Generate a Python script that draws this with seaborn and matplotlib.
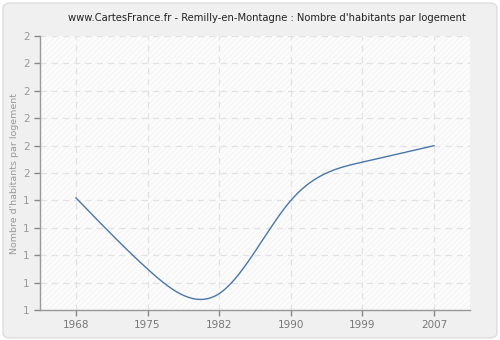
import numpy as np
import pandas as pd
import matplotlib
matplotlib.use("Agg")
import matplotlib.pyplot as plt
from matplotlib.patches import FancyBboxPatch, Rectangle
import seaborn as sns

years = ["1968", "1975", "1982", "1990", "1999", "2007"]
values = [1.41, 1.15, 1.06, 1.40, 1.54, 1.60]
yticks = [1.0, 1.1, 1.2, 1.3, 1.4, 1.5, 1.6, 1.7, 1.8, 1.9, 2.0]
title = "www.CartesFrance.fr - Remilly-en-Montagne : Nombre d'habitants par logement"
ylabel = "Nombre d'habitants par logement"


def natural_spline(x, y, xs):
    x = np.asarray(x, float); y = np.asarray(y, float)
    n = len(x)
    h = np.diff(x)
    A = np.zeros((n, n)); b = np.zeros(n)
    A[0, 0] = 1; A[-1, -1] = 1
    for i in range(1, n - 1):
        A[i, i - 1] = h[i - 1]
        A[i, i] = 2 * (h[i - 1] + h[i])
        A[i, i + 1] = h[i]
        b[i] = 3 * ((y[i + 1] - y[i]) / h[i] - (y[i] - y[i - 1]) / h[i - 1])
    c = np.linalg.solve(A, b)
    out = np.empty_like(xs)
    for k, xv in enumerate(xs):
        i = min(np.searchsorted(x, xv, side="right") - 1, n - 2)
        i = max(i, 0)
        dx = xv - x[i]
        bb = (y[i + 1] - y[i]) / h[i] - h[i] * (2 * c[i] + c[i + 1]) / 3
        d = (c[i + 1] - c[i]) / (3 * h[i])
        out[k] = y[i] + bb * dx + c[i] * dx ** 2 + d * dx ** 3
    return out


sns.set_theme(style="white")
plt.rcParams["font.family"] = ["DejaVu Sans"]

fig = plt.figure(figsize=(5.0, 3.4), dpi=100)
fig.patch.set_facecolor("white")
bg = FancyBboxPatch((0.006, 0.006), 0.988, 0.985, boxstyle="round,pad=0,rounding_size=0.015",
                    transform=fig.transFigure, facecolor="#f0f0f0", edgecolor="#dddddd",
                    linewidth=1, zorder=-10)
fig.patches.append(bg)

ax = fig.add_axes([0.08, 0.088, 0.86, 0.806])
ax.set_facecolor("#f7f7f7")
ax.add_patch(Rectangle((0, 0), 1, 1, transform=ax.transAxes, facecolor="none",
                       edgecolor="#ffffff", hatch="//////", linewidth=0, zorder=0))

idx = np.arange(len(years))
xs = np.linspace(0, len(years) - 1, 300)
ys = natural_spline(idx, values, xs)
df = pd.DataFrame({"x": xs, "y": ys})
sns.lineplot(data=df, x="x", y="y", ax=ax, color="#4a76a8", linewidth=1.0, zorder=3)

ax.set_xlim(-0.5, len(years) - 0.5)
ax.set_ylim(1.0, 2.0)
ax.set_xticks(idx)
ax.set_xticklabels(years)
ax.set_yticks(yticks)
ax.set_yticklabels([f"{v:.0f}" for v in yticks])
ax.grid(True, color="#e2e2e2", linestyle=(0, (5, 4)), linewidth=0.9, zorder=1)
ax.set_axisbelow(True)
for s in ["top", "right"]:
    ax.spines[s].set_visible(False)
for s in ["left", "bottom"]:
    ax.spines[s].set_color("#999999")
    ax.spines[s].set_linewidth(1)
ax.tick_params(axis="both", colors="#888888", labelsize=7.5, length=4, width=1,
               direction="out", left=True, bottom=True)
ax.tick_params(axis="x", labelcolor="#777777")
ax.tick_params(axis="y", labelcolor="#999999")
ax.set_xlabel("")
ax.set_ylabel(ylabel, color="#999999", fontsize=6.8, labelpad=3)
fig.text(0.534, 0.948, title, ha="center", va="center", fontsize=7.2, color="#222222")

fig.savefig("out.png", dpi=100, facecolor=fig.get_facecolor())
